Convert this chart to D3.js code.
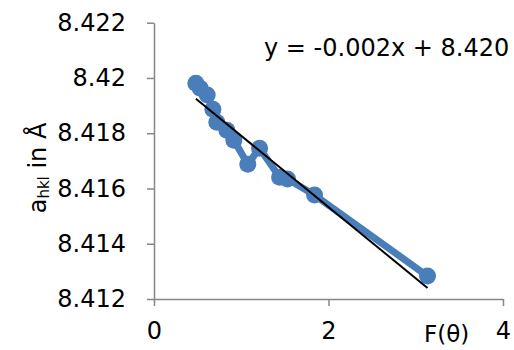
<!DOCTYPE html>
<html>
<head>
<meta charset="utf-8">
<script src="https://cdn.jsdelivr.net/npm/d3@7"></script>
<style>
    body { margin: 0; background: #fff; }
    text { font-family: "DejaVu Sans", sans-serif; fill: #000; }
</style>
</head>
<body>
<div id="chart"></div>
<script>
// F(theta) values and lattice parameter a_hkl (Angstrom)
const fTheta = [0.48, 0.53, 0.61, 0.675, 0.72, 0.835, 0.915, 1.075, 1.21, 1.44, 1.53, 1.84, 3.135];
const aHkl = [8.41981, 8.41963, 8.41938, 8.41887, 8.41840, 8.41811, 8.41775, 8.41688, 8.41746, 8.41641, 8.41634, 8.41576, 8.41283];
const xTicks = [0, 2, 4];
const yTicks = [8.412, 8.414, 8.416, 8.418, 8.42, 8.422];
const equationLabel = 'y = -0.002x + 8.420';

const config = {
    width: 514,
    height: 350,
    padding: { top: 22.7, right: 11, bottom: 51, left: 154 }
};

const svg = d3.select('#chart').append('svg')
    .attr('width', config.width)
    .attr('height', config.height);

const xScale = d3.scaleLinear()
    .domain([0, 4])
    .range([config.padding.left, config.width - config.padding.right]);

const yScale = d3.scaleLinear()
    .domain([8.412, 8.422])
    .range([config.height - config.padding.bottom, config.padding.top]);

const axisColor = '#868686';

// x axis
const xAxisLine = svg.append('g')
    .attr('transform', 'translate(0,' + yScale(8.412) + ')')
    .call(d3.axisBottom(xScale).tickValues(xTicks).tickSizeInner(7).tickSizeOuter(0).tickPadding(16)
        .tickFormat(d3.format('d')));

// y axis
const yAxisLine = svg.append('g')
    .attr('transform', 'translate(' + xScale(0) + ',0)')
    .call(d3.axisLeft(yScale).tickValues(yTicks).tickSizeInner(7).tickSizeOuter(0).tickPadding(21)
        .tickFormat(d => String(+d.toFixed(3))));

[xAxisLine, yAxisLine].forEach(ax => {
    ax.select('.domain').attr('stroke', axisColor).attr('stroke-width', 1.5);
    ax.selectAll('.tick line').attr('stroke', axisColor).attr('stroke-width', 1.5);
    ax.selectAll('.tick text').attr('font-size', 24).attr('font-family', '"DejaVu Sans", sans-serif').attr('fill', '#000');
});

// data series
const points = fTheta.map((x, i) => [x, aHkl[i]]);
const blue = '#4a7ebb';

svg.append('path')
    .datum(points)
    .attr('fill', 'none')
    .attr('stroke', blue)
    .attr('stroke-width', 7)
    .attr('stroke-linejoin', 'round')
    .attr('d', d3.line().x(d => xScale(d[0])).y(d => yScale(d[1])));

svg.selectAll('.dot')
    .data(points)
    .enter()
    .append('circle')
    .attr('class', 'dot')
    .attr('cx', d => xScale(d[0]))
    .attr('cy', d => yScale(d[1]))
    .attr('r', 8.5)
    .attr('fill', blue);

// least squares trendline
const mx = d3.mean(fTheta), my = d3.mean(aHkl);
const slope = d3.sum(fTheta, (x, i) => (x - mx) * (aHkl[i] - my)) / d3.sum(fTheta, x => (x - mx) * (x - mx));
const intercept = my - slope * mx;
const xExt = d3.extent(fTheta);

svg.append('line')
    .attr('x1', xScale(xExt[0]))
    .attr('y1', yScale(intercept + slope * xExt[0]))
    .attr('x2', xScale(xExt[1]))
    .attr('y2', yScale(intercept + slope * xExt[1]))
    .attr('stroke', '#000')
    .attr('stroke-width', 2);

// equation
svg.append('text')
    .attr('x', 264)
    .attr('y', 56)
    .attr('font-size', 24)
    .text(equationLabel);

// axis titles
svg.append('text')
    .attr('x', 424)
    .attr('y', 342)
    .attr('font-size', 23)
    .text('F(θ)');

const yTitle = svg.append('text')
    .attr('transform', 'translate(46,168) rotate(-90)')
    .attr('text-anchor', 'middle')
    .attr('font-size', 24);
yTitle.append('tspan').text('a');
yTitle.append('tspan').attr('font-size', 15).attr('dy', 3).text('hkl');
yTitle.append('tspan').attr('dy', -3).text(' in Å');
</script>
</body>
</html>
